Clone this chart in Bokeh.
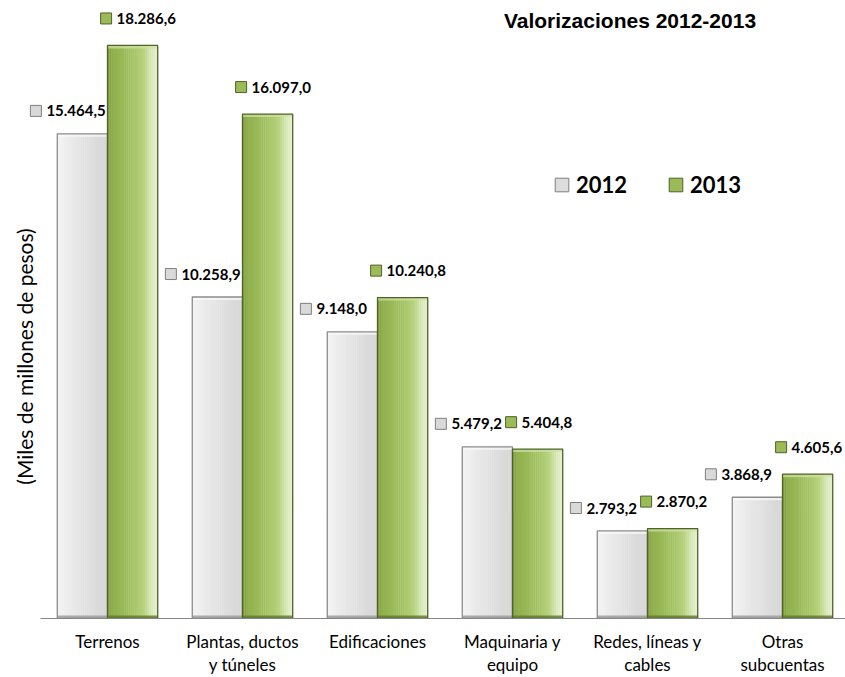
import math
import numpy as np
from bokeh.plotting import figure
from bokeh.models import (Range1d, LinearAxis, FixedTicker, Label, Legend,
                          LegendItem, ColumnDataSource)
from bokeh.embed import file_html
from bokeh.resources import INLINE
from bokeh.core.properties import value

# ---------------- data ----------------
categories = ["Terrenos", "Plantas, ductos\ny túneles", "Edificaciones",
              "Maquinaria y\nequipo", "Redes, líneas y\ncables", "Otras\nsubcuentas"]
series_names = ["2012", "2013"]
values_2012 = [15464.5, 10258.9, 9148.0, 5479.2, 2793.2, 3868.9]
values_2013 = [18286.6, 16097.0, 10240.8, 5404.8, 2870.2, 4605.6]
title_text = "Valorizaciones 2012-2013"
y_label_text = "(Miles de millones de pesos)"


def fmt(v):
    s = f"{v:,.1f}"
    return s.replace(",", "X").replace(".", ",").replace("X", ".")


# ---------------- layout ----------------
W, H = 845, 677
BL, BB = 0, 58
FRAME_W, FRAME_H = W - BL, H - BB
CAT_PX = 135.0
FIRST_CENTER_PX = 107.0
X_START = -FIRST_CENTER_PX / CAT_PX
X_END = X_START + FRAME_W / CAT_PX
Y_END = 19720.0
PX_X = FRAME_W / (X_END - X_START)
PX_Y = FRAME_H / Y_END

p = figure(width=W, height=H, x_range=Range1d(X_START, X_END), y_range=Range1d(0, Y_END),
           output_backend="svg", toolbar_location=None, x_axis_type=None, y_axis_type=None,
           min_border_left=BL, min_border_right=0, min_border_top=0, min_border_bottom=BB)
p.outline_line_color = None
p.background_fill_color = "white"
p.border_fill_color = "white"

idx = np.arange(len(categories))
BAR_W = 0.372
offsets = [-BAR_W / 2, BAR_W / 2]


def hex2rgb(h):
    h = h.lstrip("#")
    return [int(h[i:i + 2], 16) for i in (0, 2, 4)]


def interp(stops, t):
    for (t0, c0), (t1, c1) in zip(stops[:-1], stops[1:]):
        if t0 <= t <= t1:
            a = (t - t0) / (t1 - t0) if t1 > t0 else 0
            r0, r1 = hex2rgb(c0), hex2rgb(c1)
            return "#%02x%02x%02x" % tuple(int(round(x + (y - x) * a)) for x, y in zip(r0, r1))
    return stops[-1][1]


gray_stops = [(0, "#f3f3f3"), (0.5, "#e3e3e3"), (1, "#d5d5d5")]
green_stops = [(0, "#7c9a3c"), (0.12, "#91b14e"), (0.5, "#a3c262"), (0.72, "#b7d27e"),
               (0.9, "#dbeabd"), (1, "#e4f0cd")]
styles = [
    dict(stops=gray_stops, border="#8c8c8c", legend_fill="#dcdcdc", mk_fill="#d9d9d9",
         mk_line="#7f7f7f", hi="#fbfbfb", lo="#9a9a9a"),
    dict(stops=green_stops, border="#4f6228", legend_fill="#9bbb59", mk_fill="#9bbb59",
         mk_line="#4f6228", hi="#cfe3a5", lo="#5f7a2c"),
]
NSL = 24
series_values = [values_2012, values_2013]
label_dx = [-52, -32]
label_dy = [23, 27]
BEVEL_PX = 3

legend_items = []
for s, (vals, off, st) in enumerate(zip(series_values, offsets, styles)):
    xs, tops, cols = [], [], []
    for k in range(NSL):
        t = (k + 0.5) / NSL
        for i, v in enumerate(vals):
            xs.append(idx[i] + off - BAR_W / 2 + t * BAR_W)
            tops.append(v)
            cols.append(interp(st["stops"], t))
    src = ColumnDataSource(dict(x=xs, top=tops, c=cols))
    p.vbar(x="x", top="top", width=BAR_W / NSL * 1.15, fill_color="c", line_color=None, source=src)
    vals_a = np.array(vals)
    # bevel: light band under the top edge, dark band at the base
    p.vbar(x=idx + off, top=vals_a, bottom=vals_a - BEVEL_PX / PX_Y, width=BAR_W,
           fill_color=st["hi"], fill_alpha=0.7, line_color=None)
    p.vbar(x=idx + off, top=BEVEL_PX / PX_Y, bottom=0, width=BAR_W,
           fill_color=st["lo"], fill_alpha=0.8, line_color=None)
    p.vbar(x=idx + off, top=vals, width=BAR_W, fill_color=None, line_color=st["border"], line_width=1.3)

    # data labels
    anchor = idx + off + label_dx[s] / PX_X
    ly = vals_a + label_dy[s] / PX_Y
    p.scatter(x=anchor + 5.5 / PX_X, y=ly, marker="square", size=11,
              fill_color=st["mk_fill"], line_color=st["mk_line"], line_width=1)
    p.text(x=anchor, y=ly, text=[fmt(v) for v in vals], x_offset=16, text_align="left",
           text_baseline="middle", text_font=value("Lato"), text_font_style="bold",
           text_font_size="15px", text_color="#000000")

    # legend proxy (not drawn in the plot: x is NaN)
    r = p.vbar(x=[float("nan")], top=[0.0], width=0.1, fill_color=st["legend_fill"],
               line_color=st["mk_line"], line_width=1)
    legend_items.append(LegendItem(label=series_names[s], renderers=[r]))

xaxis = LinearAxis(ticker=FixedTicker(ticks=list(range(len(categories)))),
                   major_label_overrides={i: c for i, c in enumerate(categories)},
                   bounds=(-0.5, X_END),
                   axis_line_color="#868686", axis_line_width=1,
                   major_tick_line_color=None, minor_tick_line_color=None,
                   major_label_text_font="Lato", major_label_text_font_size="17px",
                   major_label_text_line_height=1.1,
                   major_label_standoff=6, major_label_text_color="#000000")
p.add_layout(xaxis, "below")

legend = Legend(items=legend_items, orientation="horizontal", location=(553, 420),
                glyph_width=17, glyph_height=17, label_standoff=6, spacing=40,
                padding=0, margin=0, border_line_color=None, background_fill_alpha=0,
                label_text_font="Lato", label_text_font_style="bold", label_text_font_size="22px",
                label_text_color="#000000")
p.add_layout(legend)

p.add_layout(Label(x=629.5, y=598, x_units="screen", y_units="screen", text=title_text,
                   text_align="center", text_baseline="middle", text_font="Liberation Sans",
                   text_font_style="bold", text_font_size="21px", text_color="#000000"))
p.add_layout(Label(x=24, y=262, x_units="screen", y_units="screen", text=y_label_text,
                   angle=math.pi / 2, text_align="center", text_baseline="middle",
                   text_font="Lato", text_font_size="21px", text_color="#000000"))

open("out.html", "w").write(file_html(p, INLINE))
